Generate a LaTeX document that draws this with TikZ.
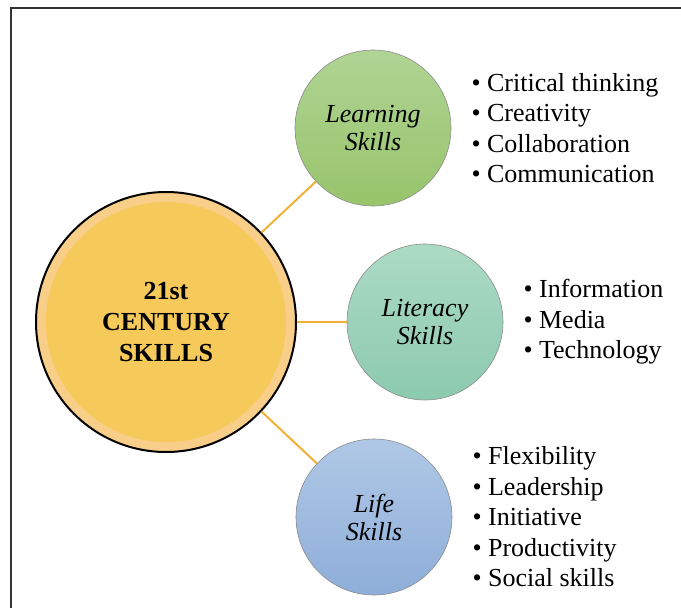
\documentclass[tikz,border=0pt]{standalone}
\usepackage{fontspec}
\setmainfont{Liberation Serif}
\usepackage{tikz}
\usetikzlibrary{positioning}

\definecolor{ringorange}{HTML}{F8CE88}
\definecolor{coreorange}{HTML}{F5C95A}
\definecolor{linkorange}{HTML}{F2B134}
\definecolor{greentop}{HTML}{AFD494}
\definecolor{greenbot}{HTML}{98C46B}
\definecolor{tealtop}{HTML}{ACDAC5}
\definecolor{tealbot}{HTML}{8CCAAE}
\definecolor{bluetop}{HTML}{B0C8E6}
\definecolor{bluebot}{HTML}{8EAED9}

\tikzset{
  skill/.style={circle, draw=black!45, line width=0.6pt, minimum size=156pt,
    inner sep=0pt, align=center, font=\fontsize{26}{28}\selectfont\itshape},
  items/.style={inner sep=0pt, align=left, font=\fontsize{26}{30.5}\selectfont},
  link/.style={linkorange, line width=2pt}
}

\begin{document}
\begin{tikzpicture}[x=1pt, y=-1pt]
\useasboundingbox (0,0) rectangle (681,608);

% frame (only top and left sides show)
\draw[black!80, line width=1.6pt] (11,608) -- (11,8) -- (681,8);

% Define nodes
\node (core) [circle, draw=black, line width=2pt, fill=ringorange,
  minimum size=260pt, inner sep=0pt, align=center,
  font=\fontsize{26}{31}\selectfont\bfseries,
  path picture={\fill[coreorange] (path picture bounding box.center) circle (120pt);}]
  at (166,322) {21st\\CENTURY\\SKILLS};

\node (learn) [skill, top color=greentop, bottom color=greenbot] at (373,128) {Learning\\Skills};
\node (literacy) [skill, top color=tealtop, bottom color=tealbot] at (425,322) {Literacy\\Skills};
\node (life) [skill, top color=bluetop, bottom color=bluebot] at (374,517) {Life\\Skills};

\node (learnlist) [items, right=20pt of learn] {\textbullet\ Critical thinking\\\textbullet\ Creativity\\\textbullet\ Collaboration\\\textbullet\ Communication};
\node (literacylist) [items, right=20pt of literacy] {\textbullet\ Information\\\textbullet\ Media\\\textbullet\ Technology};
\node (lifelist) [items, right=20pt of life] {\textbullet\ Flexibility\\\textbullet\ Leadership\\\textbullet\ Initiative\\\textbullet\ Productivity\\\textbullet\ Social skills};

% Draw edges
\draw[link] (core) -- (learn);
\draw[link] (core) -- (literacy);
\draw[link] (core) -- (life);

\end{tikzpicture}
\end{document}
